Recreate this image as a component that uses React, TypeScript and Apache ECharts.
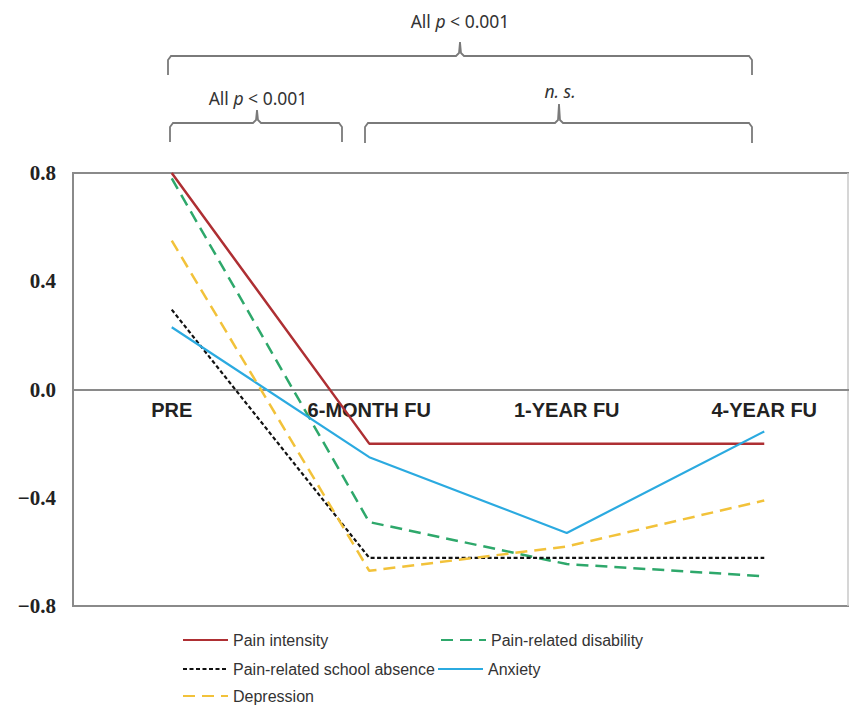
import React, { useEffect, useRef } from 'react';
import * as echarts from 'echarts';

const categories = ['PRE', '6-MONTH FU', '1-YEAR FU', '4-YEAR FU'];
const painIntensity = [0.8, -0.2, -0.2, -0.2];
const painDisability = [0.78, -0.49, -0.645, -0.69];
const schoolAbsence = [0.295, -0.622, -0.622, -0.622];
const anxiety = [0.23, -0.25, -0.53, -0.155];
const depression = [0.55, -0.67, -0.58, -0.41];
const yMin = -0.8;
const yMax = 0.8;
const yInterval = 0.4;

const seriesDefs = [
  { name: 'Pain intensity', data: painIntensity, color: '#AE2F33', type: 'solid', width: 2.5 },
  { name: 'Pain-related disability', data: painDisability, color: '#2EA86B', type: [12, 7], width: 2.5 },
  { name: 'Pain-related school absence', data: schoolAbsence, color: '#111111', type: [4, 2.5], width: 2.2 },
  { name: 'Anxiety', data: anxiety, color: '#2BAAE0', type: 'solid', width: 2.2 },
  { name: 'Depression', data: depression, color: '#F2C23A', type: [12, 7], width: 2.5 },
];

const legendPos = [
  { left: 182, top: 632 },
  { left: 440, top: 632 },
  { left: 182, top: 661 },
  { left: 437, top: 661 },
  { left: 182, top: 688 },
];

const bracketColor = '#7a7a7a';
const labelFont = '"Noto Sans", "Liberation Sans", sans-serif';

function bracketText(x: number, y: number, italicP: boolean) {
  return {
    type: 'text',
    x,
    y,
    style: {
      text: italicP ? '{a|All }{i|p}{a| < 0.001}' : '{i|n. s.}',
      align: 'center',
      verticalAlign: 'middle',
      rich: {
        a: { fontFamily: labelFont, fontSize: 17.5, fill: '#333' },
        i: { fontFamily: labelFont, fontSize: 17.5, fontStyle: 'italic', fill: '#333' },
      },
    },
  };
}

function bracket(x1: number, x2: number, xc: number, y: number, yEnd: number, yCusp: number) {
  return {
    type: 'polyline',
    shape: {
      points: [
        [x1, yEnd],
        [x1, y + 4],
        [x1 + 3, y],
        [xc - 4, y],
        [xc - 1, y - 3],
        [xc, yCusp],
        [xc + 1, y - 3],
        [xc + 4, y],
        [x2 - 3, y],
        [x2, y + 4],
        [x2, yEnd],
      ],
    },
    style: { stroke: bracketColor, lineWidth: 1.8, fill: 'none' },
  };
}

export default function App() {
  const ref = useRef<HTMLDivElement>(null);
  useEffect(() => {
    if (!ref.current) return;
    const chart = echarts.init(ref.current, undefined, { renderer: 'svg' });
    chart.setOption({
      animation: false,
      backgroundColor: '#ffffff',
      grid: {
        left: 73,
        top: 173,
        bottom: 100,
        width: 790,
        outerBoundsMode: 'none',
        containLabel: false,
        show: true,
        borderColor: '#8a8a8a',
        borderWidth: 2,
        backgroundColor: 'transparent',
      },
      xAxis: {
        type: 'category',
        data: categories,
        boundaryGap: true,
        axisLine: { show: true, onZero: true, lineStyle: { color: '#8a8a8a', width: 2 } },
        axisTick: { show: false },
        axisLabel: {
          fontFamily: '"Liberation Sans", Arial, sans-serif',
          fontWeight: 'bold',
          fontSize: 20,
          color: '#222',
          margin: -206,
        },
        splitLine: { show: false },
      },
      yAxis: {
        type: 'value',
        min: yMin,
        max: yMax,
        interval: yInterval,
        axisLine: { show: true, lineStyle: { color: '#8a8a8a', width: 2 } },
        axisTick: { show: false },
        splitLine: { show: false },
        axisLabel: {
          fontFamily: '"Liberation Serif", "Times New Roman", serif',
          fontWeight: 'bold',
          fontSize: 21,
          color: '#222',
          margin: 17,
          formatter: (v: number) => {
            const s = Math.abs(v).toFixed(1);
            return v < -1e-9 ? '\u2212' + s : s;
          },
        },
      },
      legend: seriesDefs.map((s, i) => ({
        data: [s.name],
        left: legendPos[i].left,
        top: legendPos[i].top,
        padding: 0,
        itemWidth: 45,
        itemHeight: 14,
        selectedMode: false,
        itemStyle: { opacity: 0, color: 'transparent', borderColor: 'transparent', borderWidth: 0 },
        textStyle: {
          fontFamily: '"Liberation Sans", Arial, sans-serif',
          fontSize: 16,
          color: '#333',
        },
      })),
      series: seriesDefs.map((s) => ({
        name: s.name,
        type: 'line',
        data: s.data,
        symbol: 'none',
        showSymbol: false,
        lineStyle: { color: s.color, width: s.width, type: s.type },
        itemStyle: { color: s.color },
      })),
      graphic: [
        {
          type: 'line',
          shape: { x1: 848, y1: 173, x2: 848, y2: 606 },
          style: { stroke: '#c8c8c8', lineWidth: 1.5 },
        },
        bracket(168, 752, 460, 56, 75, 42),
        bracketText(460, 21, true),
        bracket(170, 342, 257, 123, 142, 110),
        bracketText(258, 98, true),
        bracket(365, 752, 559, 123, 143, 104),
        bracketText(560, 91, false),
      ],
    });
    return () => chart.dispose();
  }, []);
  return <div ref={ref} style={{ width: 849, height: 706, position: 'absolute', left: 0, top: 0 }} />;
}
